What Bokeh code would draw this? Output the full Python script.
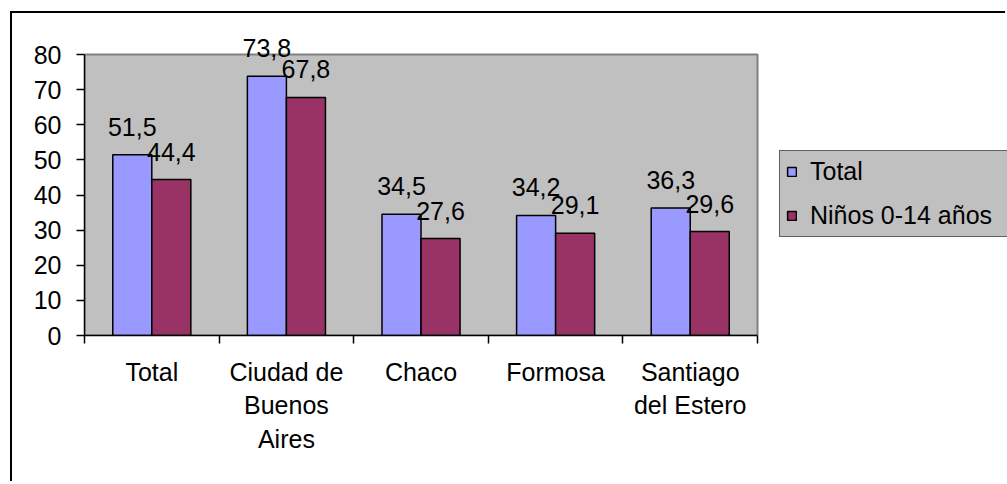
from bokeh.plotting import figure
from bokeh.models import ColumnDataSource, FixedTicker, LabelSet, LinearAxis, Range1d, Legend, LegendItem
from bokeh.core.properties import value
from bokeh.embed import file_html
from bokeh.resources import INLINE

categories = ["Total", "Ciudad de\nBuenos\nAires", "Chaco", "Formosa", "Santiago\ndel Estero"]
series_names = ["Total", "Niños 0-14 años"]
total_values = [51.5, 73.8, 34.5, 34.2, 36.3]
ninos_values = [44.4, 67.8, 27.6, 29.1, 29.6]
y_ticks = [0, 10, 20, 30, 40, 50, 60, 70, 80]
y_max = 80

FONT = "Liberation Sans"
FS = "25px"
BAR_W = 0.29

n = len(categories)
centers = [i + 0.5 for i in range(n)]

def fmt(v):
    return ("%.1f" % v).replace(".", ",")

src_total = ColumnDataSource(dict(x=[c - BAR_W / 2 for c in centers], top=total_values,
                                  lab=[fmt(v) for v in total_values]))
src_ninos = ColumnDataSource(dict(x=[c + BAR_W / 2 for c in centers], top=ninos_values,
                                  lab=[fmt(v) for v in ninos_values]))

# frame covers the whole area right of the y axis; the grey plot wall is a quad 0..n x 0..y_max
p = figure(width=995, height=470, output_backend="svg", toolbar_location=None,
           x_range=Range1d(0, 6.857), y_range=Range1d(0, 88),
           x_axis_type=None, y_axis_type=None,
           min_border_left=72, min_border_top=13, min_border_right=0, min_border_bottom=148)
p.styles = {"border-left": "2px solid black", "border-top": "2px solid black",
            "margin-left": "10px", "margin-top": "11px"}

p.background_fill_color = "white"
p.border_fill_color = "white"
p.outline_line_color = None
p.xgrid.visible = False
p.ygrid.visible = False

p.quad(left=[0], right=[n], bottom=[0], top=[y_max], fill_color="#C0C0C0",
       line_color="#808080", line_width=2)

# y axis
yax = LinearAxis(ticker=FixedTicker(ticks=y_ticks, minor_ticks=[]), bounds=(0, y_max))
yax.axis_line_color = "black"
yax.axis_line_width = 1.5
yax.major_tick_out = 8
yax.major_tick_in = 0
yax.major_tick_line_width = 1.5
yax.major_label_standoff = 15
yax.major_label_text_font = FONT
yax.major_label_text_font_size = FS
yax.major_label_text_color = "black"
p.add_layout(yax, "left")

# x axis: labels at category centres, ticks at category boundaries (minor ticks)
xax = LinearAxis(ticker=FixedTicker(ticks=centers, minor_ticks=[float(i) for i in range(n + 1)]),
                 bounds=(0, n))
xax.major_label_overrides = {c: name for c, name in zip(centers, categories)}
xax.axis_line_color = "black"
xax.axis_line_width = 1.5
xax.major_tick_out = 0
xax.major_tick_in = 0
xax.minor_tick_out = 8
xax.minor_tick_in = 0
xax.minor_tick_line_color = "black"
xax.minor_tick_line_width = 1.5
xax.major_label_standoff = 14
xax.major_label_text_font = FONT
xax.major_label_text_font_size = FS
xax.major_label_text_color = "black"
xax.major_label_text_align = "center"
p.add_layout(xax, "below")

r1 = p.vbar(x="x", top="top", width=BAR_W, source=src_total, fill_color="#9999FF",
            line_color="black", line_width=1.5)
r2 = p.vbar(x="x", top="top", width=BAR_W, source=src_ninos, fill_color="#993366",
            line_color="black", line_width=1.5)

for src in (src_total, src_ninos):
    lbl = LabelSet(x="x", y="top", text="lab", source=src, y_offset=19,
                   text_align="center", text_baseline="alphabetic",
                   text_font=value(FONT), text_font_size=value(FS), text_color="black")
    p.add_layout(lbl)

leg = Legend(items=[LegendItem(label=series_names[0], renderers=[r1]),
                    LegendItem(label=series_names[1], renderers=[r2])])
leg.location = (695, 98)
leg.margin = 0
leg.padding = 6
leg.spacing = 15
leg.glyph_width = 11
leg.glyph_height = 11
leg.label_standoff = 13
leg.label_width = 215
leg.label_text_font = FONT
leg.label_text_font_size = FS
leg.label_text_color = "black"
leg.background_fill_color = "#C0C0C0"
leg.background_fill_alpha = 1
leg.border_line_color = "black"
leg.border_line_width = 1.5
leg.click_policy = "none"
p.add_layout(leg, "center")

open("out.html", "w").write(file_html(p, INLINE))
